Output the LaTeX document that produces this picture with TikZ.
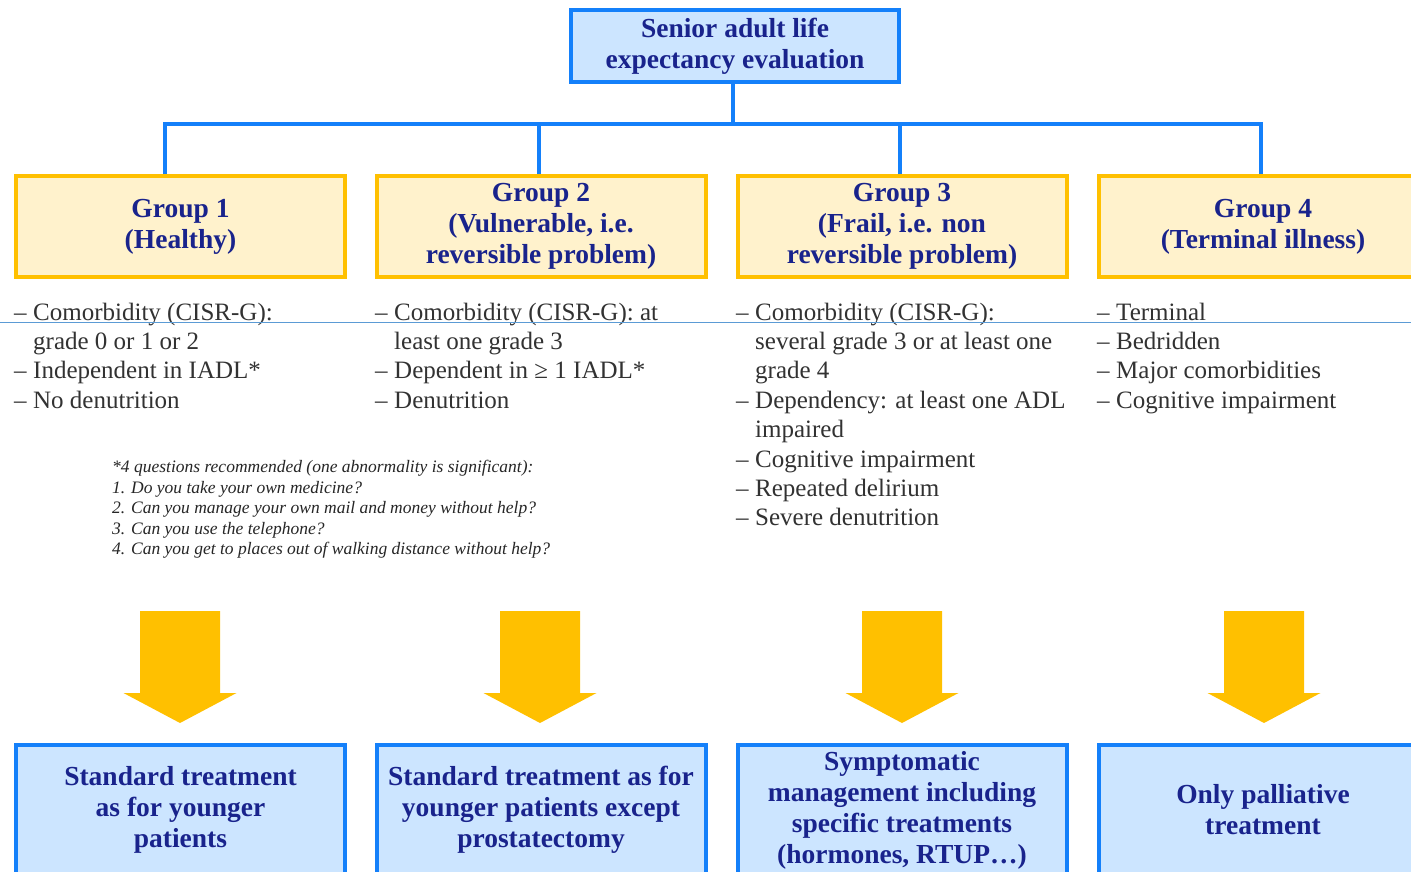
\documentclass[tikz,border=0pt]{standalone}
\usepackage{fontspec}
\setmainfont{Liberation Serif}
\definecolor{bblue}{RGB}{20,128,250}
\definecolor{lblue}{RGB}{204,229,255}
\definecolor{yborder}{RGB}{255,192,0}
\definecolor{yfill}{RGB}{255,242,204}
\definecolor{navy}{RGB}{25,35,140}
\definecolor{bodytxt}{RGB}{50,50,50}
\definecolor{thinline}{RGB}{91,155,213}
\newcommand{\litem}{\makebox[19pt][l]{–}}
\newcommand{\lcont}{\hspace*{19pt}}
\tikzset{
  headfont/.style={font=\bfseries\fontsize{27.5}{31}\selectfont, text=navy, align=center, inner sep=2pt},
  bluebox/.style={headfont, draw=bblue, fill=lblue, line width=4pt},
  groupbox/.style={headfont, draw=yborder, fill=yfill, line width=4pt, minimum width=329pt, minimum height=101pt},
  treatbox/.style={bluebox, minimum width=329pt, minimum height=130pt},
  conn/.style={draw=bblue, line width=4pt},
  listtxt/.style={anchor=north west, inner sep=0pt, align=left, text=bodytxt, font=\fontsize{25}{29.4}\selectfont},
  notetxt/.style={anchor=north west, inner sep=0pt, align=left, text=black!85, font=\itshape\fontsize{17.5}{20.6}\selectfont},
  bigarrow/.style={fill=yborder}
}
\begin{document}
\begin{tikzpicture}[x=1pt,y=-1pt]
\useasboundingbox[fill=white] (0,0) rectangle (1411,872);

% top box
\node[bluebox, minimum width=328pt, minimum height=72pt] (top) at (735,46) {Senior adult life\\expectancy evaluation};

% group boxes
\node[groupbox] (g1) at (180.5,226.5) {Group 1\\(Healthy)};
\node[groupbox] (g2) at (541,226.5) {Group 2\\(Vulnerable, i.e.\\reversible problem)};
\node[groupbox] (g3) at (902,226.5) {Group 3\\(Frail, i.e. non\\reversible problem)};
\node[groupbox] (g4) at (1263,226.5) {Group 4\\(Terminal illness)};

% connectors
\coordinate (bus) at (0,124);
\draw[conn] ([xshift=-2pt]top.south) -- ([xshift=-2pt]top.south |- bus);
\draw[conn] ([xshift=-15.5pt]g1.north) |- ([xshift=-2pt]g4.north |- bus) -- ([xshift=-2pt]g4.north);
\draw[conn] ([xshift=-2pt]g2.north) -- ([xshift=-2pt]g2.north |- bus);
\draw[conn] ([xshift=-2pt]g3.north) -- ([xshift=-2pt]g3.north |- bus);

% lists
\node[listtxt] (l1) at (14,302.5) {\litem Comorbidity (CISR-G):\\\lcont grade 0 or 1 or 2\\\litem Independent in IADL*\\\litem No denutrition};
\node[listtxt] (l2) at (375,302.5) {\litem Comorbidity (CISR-G): at\\\lcont least one grade 3\\\litem Dependent in ≥ 1 IADL*\\\litem Denutrition};
\node[listtxt] (l3) at (736,302.5) {\litem Comorbidity (CISR-G):\\\lcont several grade 3 or at least one\\\lcont grade 4\\\litem Dependency: at least one ADL\\\lcont impaired\\\litem Cognitive impairment\\\litem Repeated delirium\\\litem Severe denutrition};
\node[listtxt] (l4) at (1097,302.5) {\litem Terminal\\\litem Bedridden\\\litem Major comorbidities\\\litem Cognitive impairment};

% thin line
\draw[thinline, line width=1pt] (0,322) -- (1411,322);

% footnote
\node[notetxt] (note) at (112,460) {*4 questions recommended (one abnormality is significant):\\1. Do you take your own medicine?\\2. Can you manage your own mail and money without help?\\3. Can you use the telephone?\\4. Can you get to places out of walking distance without help?};

% block arrows
\foreach \x in {180,540,902,1264}{
  \fill[bigarrow] (\x-40,611) -- (\x+40,611) -- (\x+40,693) -- (\x+56.5,693) -- (\x,723) -- (\x-56.5,693) -- (\x-40,693) -- cycle;
}

% treatment boxes
\node[treatbox] (b1) at (180.5,810) {Standard treatment\\as for younger\\patients};
\node[treatbox] (b2) at (541,810) {Standard treatment as for\\younger patients except\\prostatectomy};
\node[treatbox] (b3) at (902,810) {Symptomatic\\management including\\specific treatments\\(hormones, RTUP…)};
\node[treatbox] (b4) at (1263,810) {Only palliative\\treatment};
\end{tikzpicture}
\end{document}
